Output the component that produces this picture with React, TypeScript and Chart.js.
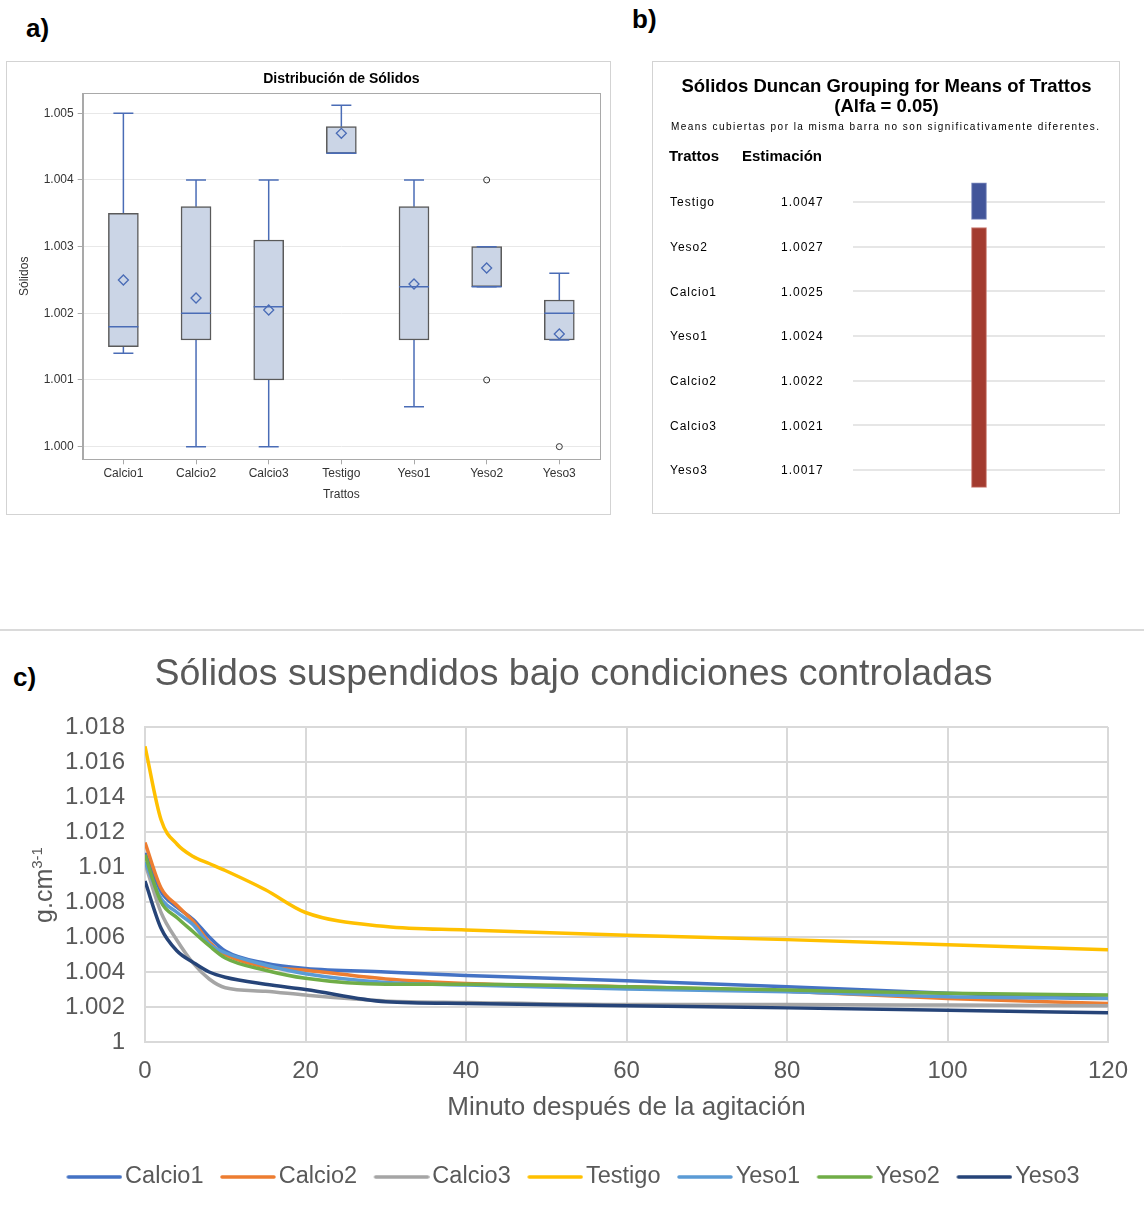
import React, { useEffect, useRef } from 'react';
import { Chart, registerables } from 'chart.js';

Chart.register(...registerables);

const FONT = "'Liberation Sans', Arial, Helvetica, sans-serif";

// ---------------- Panel a: box plot ----------------
const boxCategories = ['Calcio1', 'Calcio2', 'Calcio3', 'Testigo', 'Yeso1', 'Yeso2', 'Yeso3'];
const boxWhiskerHigh = [1.005, 1.004, 1.004, 1.00512, 1.004, 1.003, 1.0026];
const boxQ3 = [1.0035, 1.0036, 1.0031, 1.0048, 1.0036, 1.003, 1.0022];
const boxMedian = [1.0018, 1.002, 1.0021, 1.0044, 1.0024, 1.0024, 1.002];
const boxQ1 = [1.0015, 1.0016, 1.001, 1.0044, 1.0016, 1.0024, 1.0016];
const boxWhiskerLow = [1.0014, 1.0, 1.0, 1.0044, 1.0006, 1.0024, 1.0016];
const boxMean = [1.0025, 1.00223, 1.00205, 1.0047, 1.00244, 1.00268, 1.00169];
const outlierCategory = [5, 5, 6];
const outlierValue = [1.004, 1.001, 1.0];
const boxTitle = 'Distribución de Sólidos';
const boxYTitle = 'Sólidos';
const boxXTitle = 'Trattos';

// ---------------- Panel b: Duncan grouping ----------------
const duncanTreatments = ['Testigo', 'Yeso2', 'Calcio1', 'Yeso1', 'Calcio2', 'Calcio3', 'Yeso3'];
const duncanEstimates = [1.0047, 1.0027, 1.0025, 1.0024, 1.0022, 1.0021, 1.0017];
const duncanGroupFirst = [0, 1];
const duncanGroupLast = [0, 6];
const duncanTitle1 = 'Sólidos Duncan Grouping for Means of Trattos';
const duncanTitle2 = '(Alfa = 0.05)';
const duncanNote = 'Means cubiertas por la misma barra no son significativamente diferentes.';
const duncanHeaders = ['Trattos', 'Estimación'];

// ---------------- Panel c: line chart ----------------
const minutes = [0, 2, 4, 6, 8, 10, 15, 20, 30, 40, 60, 80, 100, 120];
const calcio1 = [1.0108, 1.0086, 1.0077, 1.007, 1.006, 1.0052, 1.0045, 1.0042, 1.004, 1.0038, 1.0035, 1.00316, 1.00278, 1.0025];
const calcio2 = [1.0114, 1.0088, 1.0078, 1.0069, 1.0057, 1.005, 1.0043, 1.0041, 1.0036, 1.00335, 1.00316, 1.0029, 1.00249, 1.0022];
const calcio3 = [1.0102, 1.0074, 1.0058, 1.0045, 1.0036, 1.0031, 1.0029, 1.00268, 1.00235, 1.00226, 1.00214, 1.00214, 1.00211, 1.00207];
const testigo = [1.0169, 1.0127, 1.0113, 1.0106, 1.0102, 1.0098, 1.0087, 1.0074, 1.0066, 1.0064, 1.0061, 1.00585, 1.00556, 1.00527];
const yeso1 = [1.0103, 1.0082, 1.0074, 1.0067, 1.0056, 1.0051, 1.0044, 1.0039, 1.0034, 1.00326, 1.00303, 1.00287, 1.00259, 1.00249];
const yeso2 = [1.0107, 1.008, 1.0071, 1.0063, 1.0055, 1.0048, 1.0041, 1.00364, 1.0033, 1.0033, 1.00316, 1.00297, 1.00278, 1.00268];
const yeso3 = [1.0092, 1.0065, 1.0052, 1.00455, 1.004, 1.0037, 1.0033, 1.003, 1.0023, 1.0022, 1.00207, 1.00195, 1.00182, 1.00167];
const seriesNames = ['Calcio1', 'Calcio2', 'Calcio3', 'Testigo', 'Yeso1', 'Yeso2', 'Yeso3'];
const seriesValues = [calcio1, calcio2, calcio3, testigo, yeso1, yeso2, yeso3];
const lineTitle = 'Sólidos suspendidos bajo condiciones controladas';
const lineXTitle = 'Minuto después de la agitación';
const lineYTitleMain = 'g.cm';
const lineYTitleSup = '3-1';

const seriesColors = ['#4472C4', '#ED7D31', '#A5A5A5', '#FFC000', '#5B9BD5', '#70AD47', '#264478'];

function BoxPanel() {
  const ref = useRef<HTMLCanvasElement>(null);
  useEffect(() => {
    const blue = '#4A6CB6';
    const axisGray = '#A9A9A9';
    const boxes = boxCategories.map((_, i) => ({ x: i, y: [boxQ1[i], boxQ3[i]] }));
    const whiskers: any[] = [];
    boxCategories.forEach((_, i) => {
      whiskers.push({ x: i, y: boxWhiskerHigh[i] }, { x: i, y: boxQ3[i] }, { x: i, y: null });
      whiskers.push({ x: i, y: boxQ1[i] }, { x: i, y: boxWhiskerLow[i] }, { x: i, y: null });
    });
    const caps = boxCategories.flatMap((_, i) => [
      { x: i, y: boxWhiskerHigh[i] },
      { x: i, y: boxWhiskerLow[i] },
    ]);
    const medians = boxCategories.map((_, i) => ({ x: i, y: boxMedian[i] }));
    const means = boxCategories.map((_, i) => ({ x: i, y: boxMean[i] }));
    const outliers = outlierCategory.map((c, k) => ({ x: c, y: outlierValue[k] }));

    const frame = {
      id: 'frame',
      beforeDatasetsDraw(chart: any) {
        const { ctx, chartArea: a } = chart;
        ctx.save();
        ctx.strokeStyle = axisGray;
        ctx.lineWidth = 1;
        ctx.strokeRect(Math.round(a.left) + 0.5, Math.round(a.top) + 0.5, Math.round(a.right - a.left), Math.round(a.bottom - a.top));
        ctx.restore();
      },
    };

    const chart = new Chart(ref.current!, {
      type: 'bar',
      data: {
        datasets: [
          {
            type: 'line', label: 'outliers', data: outliers, showLine: false,
            pointStyle: 'circle', pointRadius: 3, pointBorderColor: '#333', pointBackgroundColor: 'rgba(0,0,0,0)',
            pointBorderWidth: 1, order: 0,
          } as any,
          {
            type: 'line', label: 'means', data: means, showLine: false,
            pointStyle: 'rectRot', pointRadius: 5, pointBorderColor: blue, pointBackgroundColor: 'rgba(0,0,0,0)',
            pointBorderWidth: 1.3, order: 1,
          },
          {
            type: 'line', label: 'medians', data: medians, showLine: false,
            pointStyle: 'line', pointRadius: 15, pointBorderColor: blue, pointBorderWidth: 1.5, order: 2,
          },
          {
            type: 'line', label: 'caps', data: caps, showLine: false,
            pointStyle: 'line', pointRadius: 10, pointBorderColor: blue, pointBorderWidth: 1.5, order: 3,
          },
          {
            type: 'bar', label: 'boxes', data: boxes, backgroundColor: '#CBD5E6', borderColor: '#5A5A5A',
            borderWidth: 1.5, borderSkipped: false, barThickness: 30, grouped: false, order: 4,
          },
          {
            type: 'line', label: 'whiskers', data: whiskers, borderColor: blue, borderWidth: 1.5,
            pointRadius: 0, spanGaps: false, order: 5,
          },
        ] as any,
      },
      options: {
        animation: false,
        responsive: false,
        events: [],
        layout: { autoPadding: false, padding: { left: 0, right: 10, top: 0, bottom: 7.8 } },
        plugins: {
          legend: { display: false },
          tooltip: { enabled: false },
          title: {
            display: true, text: boxTitle, fullSize: false, color: '#000',
            font: { family: FONT, size: 14, weight: 'bold' }, padding: { top: 8.9, bottom: 5.6 },
          },
        },
        scales: {
          x: {
            type: 'linear', min: -0.56, max: 6.56, offset: false,
            ticks: {
              stepSize: 1, includeBounds: false, autoSkip: false, maxRotation: 0, padding: 2.5,
              color: '#333', font: { family: FONT, size: 12 },
              callback: (v: any) => boxCategories[Math.round(Number(v))] ?? '',
            },
            grid: { offset: false, drawOnChartArea: false, drawTicks: true, tickLength: 5, color: axisGray },
            border: { color: axisGray },
            title: { display: true, text: boxXTitle, color: '#333', font: { family: FONT, size: 12 }, padding: { top: 6.6, bottom: 4 } },
            afterFit: (s: any) => { s.height = 46.9; s.paddingLeft = 0; s.paddingRight = 0; },
          },
          y: {
            type: 'linear', min: 0.99981, max: 1.0053,
            ticks: {
              stepSize: 0.001, includeBounds: false, padding: 4, color: '#333', font: { family: FONT, size: 12 },
              callback: (v: any) => Number(v).toFixed(3),
            },
            grid: { color: '#E8E8E8', tickColor: axisGray, tickLength: 5 },
            border: { color: axisGray },
            title: { display: true, text: boxYTitle, color: '#333', font: { family: FONT, size: 12 }, padding: { top: 10.8, bottom: 0 } },
            afterFit: (s: any) => { s.width = 75.7; },
          },
        },
      } as any,
      plugins: [frame],
    });
    return () => chart.destroy();
  }, []);
  return <canvas ref={ref} width={603} height={452} style={{ display: 'block' }} />;
}

function DuncanPanel() {
  const ref = useRef<HTMLCanvasElement>(null);
  useEffect(() => {
    const groupColors = ['#42559A', '#A33B2F'];
    const groupBorders = ['#7A89BD', '#C9786E'];
    const datasets = duncanGroupFirst.map((first, g) => ({
      type: 'bar',
      data: [{ x: 0.5, y: [first - 0.43, duncanGroupLast[g] + 0.39] }],
      backgroundColor: groupColors[g],
      borderColor: groupBorders[g],
      borderWidth: 1,
      borderSkipped: false,
      barThickness: 15,
      grouped: false,
    }));

    const spaced = (ctx: CanvasRenderingContext2D, text: string, x: number, y: number, spacing: number) => {
      (ctx as any).letterSpacing = spacing + 'px';
      ctx.fillText(text, x, y);
      (ctx as any).letterSpacing = '0px';
    };

    const texts = {
      id: 'duncanTexts',
      afterDraw(chart: any) {
        const ctx: CanvasRenderingContext2D = chart.ctx;
        const ys = chart.scales.y;
        ctx.save();
        ctx.fillStyle = '#000';
        ctx.textBaseline = 'middle';
        ctx.textAlign = 'center';
        ctx.font = `bold 18.5px ${FONT}`;
        ctx.fillText(duncanTitle1, 233.5, 25);
        ctx.fillText(duncanTitle2, 233.5, 45);
        ctx.textAlign = 'left';
        ctx.font = `10px ${FONT}`;
        const wn = ctx.measureText(duncanNote).width;
        spaced(ctx, duncanNote, 18, 65, (428 - wn) / (duncanNote.length - 1));
        ctx.font = `bold 15px ${FONT}`;
        ctx.fillText(duncanHeaders[0], 16, 95);
        ctx.fillText(duncanHeaders[1], 89, 95);
        ctx.font = `12px ${FONT}`;
        duncanTreatments.forEach((t, i) => {
          const y = ys.getPixelForValue(i) + 1;
          spaced(ctx, t, 17, y, 1);
          spaced(ctx, duncanEstimates[i].toFixed(4), 128, y, 1);
        });
        ctx.restore();
      },
    };

    const chart = new Chart(ref.current!, {
      type: 'bar',
      data: { datasets: datasets as any },
      options: {
        animation: false,
        responsive: false,
        events: [],
        layout: { autoPadding: false, padding: { left: 200, right: 14, top: 119.9, bottom: 22.9 } },
        plugins: { legend: { display: false }, tooltip: { enabled: false } },
        scales: {
          x: { type: 'linear', min: 0, max: 1, display: false, offset: false },
          y: {
            type: 'linear', reverse: true, min: -0.45, max: 6.45,
            ticks: { display: false, stepSize: 1, includeBounds: false },
            grid: { color: '#E6E6E6', lineWidth: 2, drawTicks: false },
            border: { display: false },
            afterFit: (s: any) => { s.width = 0; },
          },
        },
      } as any,
      plugins: [texts],
    });
    return () => chart.destroy();
  }, []);
  return <canvas ref={ref} width={466} height={451} style={{ display: 'block' }} />;
}

function makeLegendLine(color: string) {
  const c = document.createElement('canvas');
  c.width = 64;
  c.height = 8;
  const g = c.getContext('2d')!;
  g.strokeStyle = color;
  g.lineWidth = 3.5;
  g.lineCap = 'round';
  g.beginPath();
  g.moveTo(10, 4);
  g.lineTo(62, 4);
  g.stroke();
  return c;
}

function LinePanel() {
  const ref = useRef<HTMLCanvasElement>(null);
  useEffect(() => {
    const gray = '#595959';
    const gridColor = '#D9D9D9';
    const datasets = seriesNames.map((name, i) => ({
      label: name,
      data: minutes.map((t, j) => ({ x: t, y: seriesValues[i][j] })),
      borderColor: seriesColors[i],
      backgroundColor: seriesColors[i],
      borderWidth: 3.5,
      pointRadius: 0,
      pointStyle: makeLegendLine(seriesColors[i]),
      cubicInterpolationMode: 'monotone',
      order: seriesNames.length - 1 - i,
    }));

    const yTitle = {
      id: 'yTitle',
      afterDraw(chart: any) {
        const ctx: CanvasRenderingContext2D = chart.ctx;
        ctx.save();
        ctx.translate(45, 245);
        ctx.rotate(-Math.PI / 2);
        ctx.fillStyle = gray;
        ctx.textBaseline = 'alphabetic';
        ctx.textAlign = 'left';
        ctx.font = `25px ${FONT}`;
        const w1 = ctx.measureText(lineYTitleMain).width;
        ctx.font = `15px ${FONT}`;
        const w2 = ctx.measureText(lineYTitleSup).width;
        const start = -(w1 + w2) / 2;
        ctx.font = `25px ${FONT}`;
        ctx.fillText(lineYTitleMain, start, 7);
        ctx.font = `15px ${FONT}`;
        ctx.fillText(lineYTitleSup, start + w1, -3);
        ctx.restore();
      },
    };

    const chart = new Chart(ref.current!, {
      type: 'line',
      data: { datasets: datasets as any },
      options: {
        animation: false,
        responsive: false,
        events: [],
        layout: { padding: { left: 39, right: 36, top: 0, bottom: 8.25 } },
        plugins: {
          tooltip: { enabled: false },
          title: {
            display: true, text: lineTitle, color: gray,
            font: { family: FONT, size: 37.5, weight: 'normal' }, padding: { top: 12, bottom: 30 },
          },
          legend: {
            position: 'bottom',
            labels: {
              usePointStyle: true, pointStyleWidth: 46, boxHeight: 8, padding: 17.5,
              color: gray, font: { family: FONT, size: 23.5 },
              sort: (a: any, b: any) => a.datasetIndex - b.datasetIndex,
            },
          },
        },
        scales: {
          x: {
            type: 'linear', min: 0, max: 120,
            ticks: { stepSize: 20, padding: 15, color: gray, font: { family: FONT, size: 24 }, maxRotation: 0 },
            grid: { color: gridColor, lineWidth: 2, drawTicks: false },
            border: { color: gridColor, width: 2 },
            title: { display: true, text: lineXTitle, color: gray, font: { family: FONT, size: 26 }, padding: { top: 6.6, bottom: 24.15 } },
            afterFit: (s: any) => { s.height = 105.75; },
          },
          y: {
            type: 'linear', min: 1, max: 1.018,
            ticks: {
              stepSize: 0.002, padding: 20, color: gray, font: { family: FONT, size: 24 },
              callback: (v: any) => String(parseFloat(Number(v).toFixed(3))),
            },
            grid: { color: gridColor, lineWidth: 2, drawTicks: false },
            border: { color: gridColor, width: 2 },
            afterFit: (s: any) => { s.width = 106; },
          },
        },
      } as any,
      plugins: [yTitle],
    });
    return () => chart.destroy();
  }, []);
  return <canvas ref={ref} width={1144} height={567} style={{ display: 'block' }} />;
}

export default function App() {
  const letter: React.CSSProperties = {
    position: 'absolute', fontFamily: FONT, fontWeight: 'bold', fontSize: 26, lineHeight: '30px', color: '#000',
  };
  return (
    <div style={{ position: 'absolute', left: 0, top: 0, width: 1144, height: 1207, background: '#fff', overflow: 'hidden' }}>
      <div style={{ ...letter, left: 26, top: 13 }}>a)</div>
      <div style={{ ...letter, left: 632, top: 4 }}>b)</div>
      <div style={{ ...letter, left: 13, top: 662 }}>c)</div>
      <div style={{ position: 'absolute', left: 6, top: 61, border: '1px solid #D3D3D3' }}>
        <BoxPanel />
      </div>
      <div style={{ position: 'absolute', left: 652, top: 61, border: '1px solid #D3D3D3' }}>
        <DuncanPanel />
      </div>
      <div style={{ position: 'absolute', left: 0, top: 629, width: 1144, height: 2, background: '#DADADA' }} />
      <div style={{ position: 'absolute', left: 0, top: 640 }}>
        <LinePanel />
      </div>
    </div>
  );
}
